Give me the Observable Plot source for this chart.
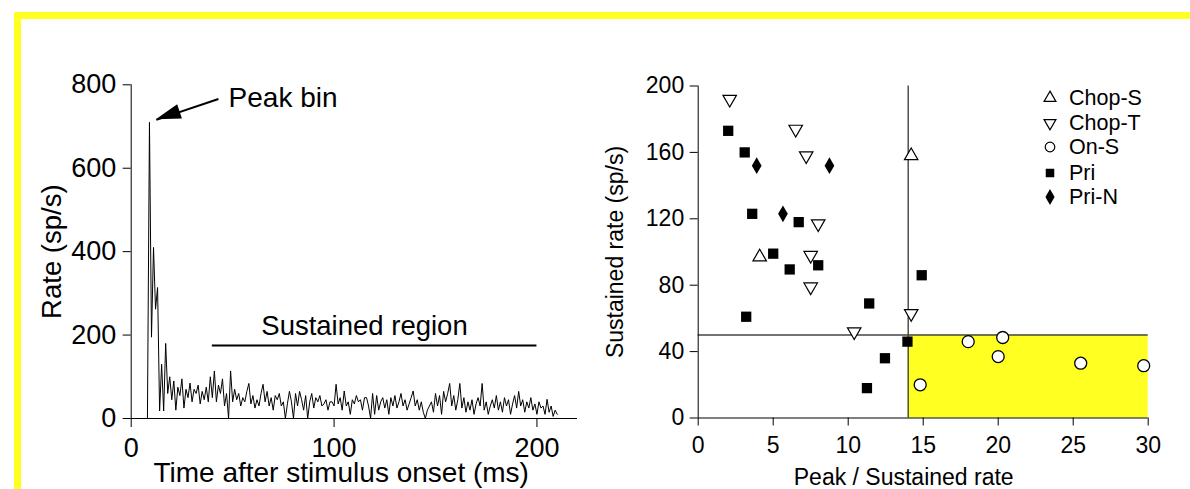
<!DOCTYPE html>
<html><head><meta charset="utf-8">
<script src="https://cdn.jsdelivr.net/npm/d3@7"></script>
<script src="https://cdn.jsdelivr.net/npm/@observablehq/plot@0.6"></script>
<style>
html,body{margin:0;padding:0;background:#fff;}
#page{position:relative;width:1190px;height:489px;overflow:hidden;font-family:"Liberation Sans",Arial,sans-serif;background:#fff;}
#frame{position:absolute;left:14px;top:12px;width:1400px;height:700px;border-top:7.5px solid #ffff22;border-left:7px solid #ffff22;pointer-events:none;z-index:5;}
#left{position:absolute;left:0;top:0;width:600px;height:489px;}
#right{position:absolute;left:600px;top:0;width:590px;height:489px;}
.lg{position:absolute;left:1040px;height:20px;display:flex;align-items:center;font-size:21.5px;line-height:20px;color:#000;}
.lg svg{width:20px;height:20px;margin-right:9px;}
</style>
</head><body>
<div id="page"><div id="frame"></div><div id="left"></div><div id="right"></div></div>
<script>
// ---------- Left panel: PSTH ----------
const binWidth = 1; // ms per bin
const psthRate = [
  0,0,0,0,0,0,0,0,0,710,
  195,410,262,314,18,130,18,180,60,100,
  45,90,20,75,55,95,25,70,50,85,
  40,70,60,80,35,65,45,75,40,100,
  50,114,40,80,60,95,30,60,0,114,
  40,70,45,60,30,50,40,65,84,35,
  55,25,45,30,60,82,40,65,30,50,
  20,55,45,60,30,40,0,35,65,40,
  0,60,30,65,45,20,55,0,40,60,
  25,50,40,55,30,35,45,20,40,40,
  30,82,35,50,20,66,30,40,10,45,
  35,55,40,45,20,50,50,30,0,60,
  10,55,20,40,50,25,45,10,50,30,
  55,25,40,60,30,45,20,35,50,66,
  30,45,20,40,15,0,20,30,40,15,
  60,30,55,10,65,40,60,84,30,55,
  20,45,84,25,50,15,40,20,45,10,
  35,50,30,84,20,40,10,30,45,25,
  55,20,40,15,50,30,45,10,35,55,
  25,65,30,45,15,40,25,50,20,35,
  10,40,25,30,10,46,15,30,5,20,10
];
const xTicksLeft = [0, 100, 200];
const yTicksLeft = [0, 200, 400, 600, 800];
const leftXDomain = [0, 220];
const leftYDomain = [0, 800];
const sustained = {start: 40, end: 200, level: 175, label: "Sustained region", labelT: 115, labelRate: 222};
const peakArrow = {label: "Peak bin", labelT: 48, labelRate: 768, tailT: 43, tailRate: 766, tipT: 12.4, tipRate: 716};
const leftXLabel = "Time after stimulus onset (ms)";
const leftXLabelT = 103.5;
const leftYLabel = "Rate (sp/s)";

// ---------- Right panel: scatter ----------
const chopS = [[4.1,97],[14.2,158]];
const chopT = [[2.1,192],[6.5,174],[7.2,158],[8.0,117],[7.5,98],[7.5,79],[10.4,52],[14.2,63]];
const onS = [[14.8,20],[18.0,46],[20.0,37],[20.3,48.5],[25.5,33],[29.7,31.5]];
const pri = [[2.0,173],[3.1,160],[3.6,123],[6.7,118],[5.0,99],[6.1,89.5],[8.0,92],[3.2,61],[11.4,69],[14.9,86],[13.95,46],[12.45,36],[11.25,18]];
const priN = [[3.9,152],[8.75,152],[5.65,123]];
const xTicksRight = [0,5,10,15,20,25,30];
const yTicksRight = [0,40,80,120,160,200];
const peakThreshold = 14;
const sustThreshold = 50;
const rightXLabel = "Peak / Sustained rate";
const rightXLabelPos = 13.7;
const rightYLabel = "Sustained rate (sp/s)";
const legendNames = ["Chop-S","Chop-T","On-S","Pri","Pri-N"];

const FONT = '"Liberation Sans", Arial, Helvetica, sans-serif';
const YELLOW = "#ffff22";

const psth = psthRate.map((r, i) => ({t: i * binWidth, rate: r}));

const leftPlot = Plot.plot({
  width: 600, height: 489,
  marginLeft: 130.7, marginRight: 23, marginTop: 84.3, marginBottom: 71,
  x: {domain: leftXDomain},
  y: {domain: leftYDomain},
  style: {fontFamily: FONT, fontSize: "27px", background: "transparent", color: "#000", overflow: "visible"},
  marks: [
    Plot.axisY({ticks: yTicksLeft, tickSize: 8, tickPadding: 7, label: null}),
    Plot.axisX({ticks: xTicksLeft, tickSize: 9, tickPadding: 10, label: null}),
    Plot.ruleX([leftXDomain[0]], {y1: leftYDomain[0], y2: leftYDomain[1], stroke: "#000", strokeWidth: 1}),
    Plot.ruleY([leftYDomain[0]], {x1: leftXDomain[0], x2: leftXDomain[1], stroke: "#000", strokeWidth: 1}),
    Plot.line(psth, {x: "t", y: "rate", stroke: "#000", strokeWidth: 1}),
    Plot.ruleY([sustained], {y: "level", x1: "start", x2: "end", stroke: "#000", strokeWidth: 2}),
    Plot.text([sustained], {x: "labelT", y: "labelRate", text: "label", fontSize: 27.5, textAnchor: "middle"}),
    Plot.text([peakArrow], {x: "labelT", y: "labelRate", text: "label", fontSize: 28, textAnchor: "start"}),
    Plot.link([peakArrow], {x1: "tailT", y1: "tailRate", x2: "tipT", y2: "tipRate", stroke: "#000", strokeWidth: 2}),
    Plot.text([leftYLabel], {frameAnchor: "left", dx: -79.4, rotate: -90, fontSize: 27.5, textAnchor: "middle", lineAnchor: "middle", text: d => d}),
    Plot.text([leftXLabel], {x: leftXLabelT, frameAnchor: "bottom", dy: 55, fontSize: 28, textAnchor: "middle", lineAnchor: "middle", text: d => d})
  ]
});
{
  const sx = leftPlot.scale("x"), sy = leftPlot.scale("y");
  const tip = [sx.apply(peakArrow.tipT), sy.apply(peakArrow.tipRate)];
  const tail = [sx.apply(peakArrow.tailT), sy.apply(peakArrow.tailRate)];
  const dx = tip[0]-tail[0], dy = tip[1]-tail[1], len = Math.hypot(dx, dy);
  const ux = dx/len, uy = dy/len, hl = 25, hw = 7.5;
  const bx = tip[0]-ux*hl, by = tip[1]-uy*hl;
  const pts = [[tip[0],tip[1]],[bx - uy*hw, by + ux*hw],[bx + uy*hw, by - ux*hw]];
  d3.select(leftPlot).append("polygon").attr("points", pts.map(p => p.join(",")).join(" ")).attr("fill", "#000");
}
document.getElementById("left").appendChild(leftPlot);

const pt = {x: d => d[0], y: d => d[1]};
const rightPlot = Plot.plot({
  width: 590, height: 489,
  marginLeft: 97.7, marginRight: 42.3, marginTop: 85.5, marginBottom: 71.5,
  x: {domain: [xTicksRight[0], xTicksRight[xTicksRight.length-1]]},
  y: {domain: [yTicksRight[0], yTicksRight[yTicksRight.length-1]]},
  style: {fontFamily: FONT, fontSize: "23px", background: "transparent", color: "#000", overflow: "visible"},
  marks: [
    Plot.rect([{x1: peakThreshold, x2: 30, y1: 0, y2: sustThreshold}], {x1: "x1", x2: "x2", y1: "y1", y2: "y2", fill: YELLOW}),
    Plot.ruleY([sustThreshold], {x1: 0, x2: 30, stroke: "#444", strokeWidth: 1.4}),
    Plot.ruleX([peakThreshold], {y1: 0, y2: 200, stroke: "#444", strokeWidth: 1.4}),
    Plot.ruleX([0], {y1: 0, y2: 200, stroke: "#000", strokeWidth: 1}),
    Plot.ruleY([0], {x1: 0, x2: 30, stroke: "#000", strokeWidth: 1}),
    Plot.axisY({ticks: yTicksRight, tickSize: 8, tickPadding: 6, label: null}),
    Plot.axisX({ticks: xTicksRight, tickSize: 8, tickPadding: 11, label: null}),
    Plot.dot(chopS, {...pt, symbol: "triangle", r: 5, fill: "white", stroke: "#000", strokeWidth: 1.2}),
    Plot.dot(chopT, {...pt, symbol: "triangle", rotate: 180, r: 5, fill: "white", stroke: "#000", strokeWidth: 1.2}),
    Plot.dot(onS, {...pt, symbol: "circle", r: 6, fill: "white", stroke: "#000", strokeWidth: 1.3}),
    Plot.dot(pri, {...pt, symbol: "square", r: 5.8, fill: "#000", stroke: "none"}),
    Plot.dot(priN, {...pt, symbol: "diamond", r: 5.1, fill: "#000", stroke: "none"}),
    Plot.text([rightYLabel], {frameAnchor: "left", dx: -82.7, rotate: -90, fontSize: 23, textAnchor: "middle", lineAnchor: "middle", text: d => d}),
    Plot.text([rightXLabel], {x: rightXLabelPos, frameAnchor: "bottom", dy: 59.5, fontSize: 23, textAnchor: "middle", lineAnchor: "middle", text: d => d})
  ]
});
document.getElementById("right").appendChild(rightPlot);

// Legend
const legendSymbols = [
  {type: d3.symbolTriangle, rot: 0, fill: "white", stroke: "#000", r: 4.4},
  {type: d3.symbolTriangle, rot: 180, fill: "white", stroke: "#000", r: 4.4},
  {type: d3.symbolCircle, rot: 0, fill: "white", stroke: "#000", r: 4.8},
  {type: d3.symbolSquare, rot: 0, fill: "#000", stroke: "none", r: 4.8},
  {type: d3.symbolDiamond, rot: 0, fill: "#000", stroke: "none", r: 4.8}
];
const legendRowY = [98.3, 122.7, 146.5, 172.7, 197];
const page = document.getElementById("page");
legendNames.forEach((name, i) => {
  const s = legendSymbols[i];
  const row = document.createElement("div");
  row.className = "lg";
  row.style.top = (legendRowY[i] - 10) + "px";
  const path = d3.symbol(s.type, s.r * s.r * Math.PI)();
  row.innerHTML = `<svg viewBox="-10 -10 20 20"><path d="${path}" transform="rotate(${s.rot})" fill="${s.fill}" stroke="${s.stroke}" stroke-width="1.2"/></svg><span>${name}</span>`;
  page.appendChild(row);
});
</script>
</body></html>
